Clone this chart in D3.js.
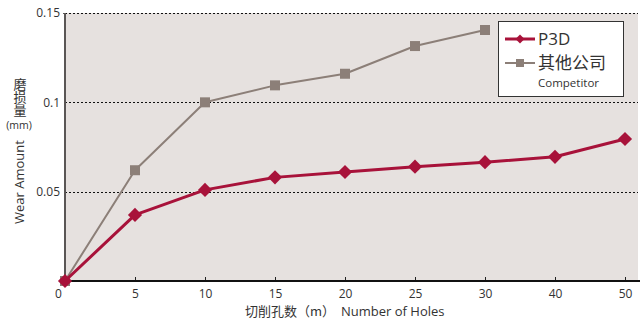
<!DOCTYPE html>
<html>
<head>
<meta charset="utf-8">
<script src="https://cdn.jsdelivr.net/npm/d3@7/dist/d3.min.js"></script>
<style>
  html, body { margin: 0; padding: 0; background: #fff; }
  svg { display: block; }
  text { font-family: "Open Sans", "Noto Sans", "Noto Sans CJK SC", sans-serif; fill: #333; }
  .cjk { font-family: "Noto Sans CJK SC", sans-serif; }
</style>
</head>
<body>
<svg id="chart" width="640" height="320"></svg>
<script>
// Number of holes drilled (category positions along the x axis)
const holes = ["0", "5", "10", "15", "20", "25", "30", "40", "50"];
// Wear amount (mm) for P3D
const p3dWear = [0, 0.037, 0.051, 0.058, 0.061, 0.064, 0.0665, 0.0695, 0.0795];
// Wear amount (mm) for the competitor (measured up to 30 holes)
const competitorWear = [0, 0.062, 0.100, 0.1095, 0.116, 0.1315, 0.1405];
// Y axis ticks
const yTicks = [0.05, 0.1, 0.15];

const svg = d3.select("#chart");
const plot = { left: 65, right: 638, top: 13, bottom: 281 };

const x = d3.scalePoint().domain(holes).range([65, 625]);
const y = d3.scaleLinear().domain([0, 0.15]).range([plot.bottom, plot.top]);

// Plot background
svg.append("rect")
  .attr("x", plot.left).attr("y", plot.top)
  .attr("width", plot.right - plot.left).attr("height", plot.bottom - plot.top)
  .attr("fill", "#e6e1df");

// Dotted gridlines
svg.append("g").selectAll("line").data(yTicks).join("line")
  .attr("x1", plot.left).attr("x2", plot.right)
  .attr("y1", d => Math.round(y(d)) + 0.5).attr("y2", d => Math.round(y(d)) + 0.5)
  .attr("stroke", "#111").attr("stroke-width", 1).attr("stroke-dasharray", "2,2");

// Y axis
const yAxis = d3.axisLeft(y).tickValues(yTicks).tickSize(0).tickPadding(5)
  .tickFormat(d => d3.format("")(d));
const gy = svg.append("g").attr("transform", `translate(${plot.left},0)`).call(yAxis);
gy.select(".domain").remove();
gy.selectAll("text").style("font-size", "12px").attr("fill", "#333");
svg.append("line")
  .attr("x1", plot.left).attr("x2", plot.left)
  .attr("y1", plot.top).attr("y2", plot.bottom)
  .attr("stroke", "#5a5655").attr("stroke-width", 2);
svg.append("line")
  .attr("x1", plot.left - 2).attr("x2", plot.left)
  .attr("y1", plot.top + 0.5).attr("y2", plot.top + 0.5)
  .attr("stroke", "#5a5655").attr("stroke-width", 1);

// X axis
const xAxis = d3.axisBottom(x).tickSizeInner(-4).tickSizeOuter(0).tickPadding(8);
const gx = svg.append("g").attr("transform", `translate(0,${plot.bottom})`).call(xAxis);
gx.select(".domain").remove();
gx.selectAll(".tick line").attr("stroke", "#222").attr("stroke-width", 1);
gx.selectAll(".tick").filter(d => d === "0").select("line").remove();
gx.selectAll("text").style("font-size", "12px").attr("fill", "#333");
gx.selectAll(".tick").filter(d => d === "0").select("text").attr("dx", -7);
svg.append("line")
  .attr("x1", plot.left - 1).attr("x2", plot.right + 2)
  .attr("y1", plot.bottom).attr("y2", plot.bottom)
  .attr("stroke", "#111").attr("stroke-width", 2);

// Series
const series = [
  { name: "其他公司", values: competitorWear, color: "#8c7f78", width: 2, symbol: d3.symbolSquare, size: 100, rotate: 0 },
  { name: "P3D", values: p3dWear, color: "#a8123a", width: 3, symbol: d3.symbolSquare, size: 100, rotate: 45 }
];

const line = d3.line().x((d, i) => x(holes[i])).y(d => y(d));

series.forEach(s => {
  svg.append("path")
    .datum(s.values)
    .attr("d", line)
    .attr("fill", "none")
    .attr("stroke", s.color)
    .attr("stroke-width", s.width)
    .attr("stroke-linejoin", "round");
  svg.append("g").selectAll("path").data(s.values).join("path")
    .attr("d", d3.symbol().type(s.symbol).size(s.size))
    .attr("transform", (d, i) => `translate(${x(holes[i])},${y(d)}) rotate(${s.rotate})`)
    .attr("fill", s.color);
});

// Legend
const lg = svg.append("g");
lg.append("rect")
  .attr("x", 498.5).attr("y", 21.5).attr("width", 125).attr("height", 75)
  .attr("fill", "#fff").attr("stroke", "#333").attr("stroke-width", 1);
const legendItems = [
  { s: series[1], y: 39 },
  { s: series[0], y: 63 }
];
legendItems.forEach(it => {
  lg.append("line")
    .attr("x1", 505).attr("x2", 535).attr("y1", it.y).attr("y2", it.y)
    .attr("stroke", it.s.color).attr("stroke-width", it.s.width);
  lg.append("path")
    .attr("d", d3.symbol().type(it.s.symbol).size(it.s.rotate ? 40 : 64))
    .attr("transform", `translate(520,${it.y}) rotate(${it.s.rotate})`)
    .attr("fill", it.s.color);
});
lg.append("text").attr("x", 538).attr("y", 45).style("font-size", "17px").attr("fill", "#222").text("P3D");
lg.append("text").attr("class", "cjk").attr("x", 538).attr("y", 69).style("font-size", "17px").attr("fill", "#222").text("其他公司");
lg.append("text").attr("x", 538).attr("y", 87).style("font-size", "11.5px").attr("fill", "#222").text("Competitor");

// Axis titles
svg.append("text")
  .attr("transform", "translate(24,182) rotate(-90)")
  .attr("text-anchor", "middle")
  .style("font-size", "13px").text("Wear Amount");
// Vertical CJK label stacked above the unit
svg.append("text").attr("class", "cjk")
  .attr("x", 20).attr("y", 78)
  .style("writing-mode", "vertical-rl")
  .style("font-size", "13px").text("磨损量");
svg.append("text")
  .attr("x", 19).attr("y", 129)
  .attr("text-anchor", "middle")
  .style("font-size", "10.5px").text("(mm)");

svg.append("text").attr("class", "cjk")
  .attr("x", 245).attr("y", 316)
  .style("font-size", "13px").text("切削孔数（m）");
svg.append("text")
  .attr("x", 341).attr("y", 316)
  .style("font-size", "13px").text("Number of Holes");
</script>
</body>
</html>
